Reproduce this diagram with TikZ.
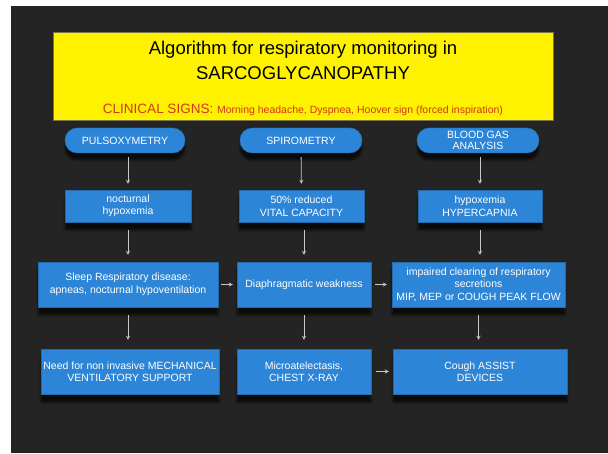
\documentclass[tikz,border=0pt]{standalone}
\usepackage{fontspec}
\setmainfont{Liberation Sans}
\usetikzlibrary{arrows.meta, shadows.blur}
\definecolor{slide}{RGB}{36,36,36}
\definecolor{boxblue}{RGB}{44,133,214}
\definecolor{signred}{RGB}{214,52,22}
\definecolor{arrowgray}{RGB}{200,200,200}
\tikzstyle{banner} = [rectangle, draw=black!60!yellow, fill=yellow,
    minimum width=500pt, minimum height=88pt, inner sep=0pt]
\tikzstyle{startstop} = [rectangle, rounded corners=12pt, align=center,
    draw=boxblue!80!black, fill=boxblue, text=white, inner sep=1pt,
    minimum height=25pt, font=\fontsize{10.5}{11.5}\selectfont,
    blur shadow={shadow xshift=0pt, shadow yshift=-7pt, shadow opacity=70}]
\tikzstyle{process} = [rectangle, align=center,
    draw=boxblue!80!black, fill=boxblue, text=white, inner sep=1pt,
    font=\fontsize{10.5}{12.5}\selectfont,
    blur shadow={shadow xshift=0pt, shadow yshift=-8pt, shadow opacity=70}]
\tikzstyle{arrow} = [->, >=stealth, draw=arrowgray, line width=0.8pt]

\begin{document}
\begin{tikzpicture}[x=1pt, y=1pt]

        % Slide background
        \useasboundingbox (0,0) rectangle (608,453);
        \fill[white] (0,0) rectangle (608,453);
        \fill[slide] (11,0) rectangle (608,447);

        % Title banner
        \node (banner) [banner] at (303,377) {};
        \node (title) [align=center, font=\fontsize{18.5}{25}\selectfont] at (303,393)
            {Algorithm for respiratory monitoring in\\SARCOGLYCANOPATHY};
        \node (signs) [text=signred] at (303,343)
            {\fontsize{13.5}{15}\selectfont CLINICAL SIGNS: \fontsize{10.5}{12}\selectfont
             Morning headache, Dyspnea, Hoover sign (forced inspiration)};

        % Nodes
        \node (pulse) [startstop, minimum width=120pt] at (125,312.5) {PULSOXYMETRY};
        \node (spiro) [startstop, minimum width=122pt] at (301,312.5) {SPIROMETRY};
        \node (gas) [startstop, minimum width=122pt] at (478,312.5) {BLOOD GAS\\ANALYSIS};

        \node (hypox) [process, minimum width=126pt, minimum height=32pt] at (128,247) {nocturnal\\hypoxemia};
        \node (vital) [process, minimum width=125pt, minimum height=32pt] at (301.5,247) {50\% reduced\\VITAL CAPACITY};
        \node (hyperc) [process, minimum width=124pt, minimum height=32pt] at (480,247) {hypoxemia\\HYPERCAPNIA};

        \node (sleep) [process, minimum width=180pt, minimum height=45pt] at (128,168.5) {Sleep Respiratory disease:\\apneas, nocturnal hypoventilation};
        \node (diaph) [process, minimum width=134pt, minimum height=45pt] at (304,168.5) {Diaphragmatic weakness};
        \node (clear) [process, minimum width=173pt, minimum height=45pt] at (478.5,168.5) {impaired clearing of respiratory\\secretions\\MIP, MEP or COUGH PEAK FLOW};

        \node (nimv) [process, minimum width=178pt, minimum height=45pt] at (130,81.5) {Need for non invasive MECHANICAL\\VENTILATORY SUPPORT};
        \node (xray) [process, minimum width=134pt, minimum height=45pt] at (304,81.5) {Microatelectasis,\\CHEST X-RAY};
        \node (assist) [process, minimum width=174pt, minimum height=45pt] at (480,81.5) {Cough ASSIST\\DEVICES};

        % Arrows
        \draw [arrow, shorten <=4pt, shorten >=6pt] (pulse.south -| hypox) -- (hypox);
        \draw [arrow, shorten <=4pt, shorten >=6pt] (spiro) -- (vital);
        \draw [arrow, shorten <=4pt, shorten >=6pt] (gas.south -| hyperc) -- (hyperc);
        \draw [arrow, shorten <=8pt, shorten >=7pt] (hypox) -- (hypox |- sleep.north);
        \draw [arrow, shorten <=8pt, shorten >=7pt] (vital.south -| diaph) -- (diaph);
        \draw [arrow, shorten <=8pt, shorten >=7pt] (hyperc) -- (hyperc |- clear.north);
        \draw [arrow, shorten <=8pt, shorten >=9pt] (sleep) -- (sleep |- nimv.north);
        \draw [arrow, shorten <=8pt, shorten >=9pt] (diaph) -- (xray);
        \draw [arrow, shorten <=8pt, shorten >=9pt] (clear) -- (clear |- assist.north);
        \draw [arrow, shorten <=3pt, shorten >=4pt] (sleep) -- (diaph);
        \draw [arrow, shorten <=4pt, shorten >=5pt] (diaph) -- (clear);
        \draw [arrow, shorten <=5pt, shorten >=4pt] (xray) -- (assist);

    \end{tikzpicture}
\end{document}
